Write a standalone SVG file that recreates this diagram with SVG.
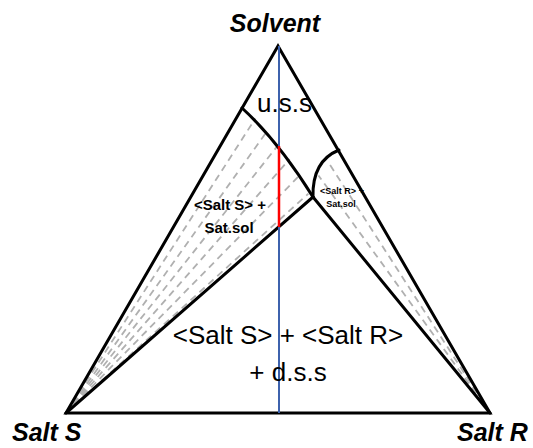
<svg xmlns="http://www.w3.org/2000/svg" width="533" height="448" viewBox="0 0 533 448">
<style>
.edge{fill:none;stroke:#000;stroke-width:3;stroke-linejoin:miter;stroke-linecap:round}
.tie{fill:none;stroke:#b0b0b0;stroke-width:1.8;stroke-dasharray:7 5}
.corner{font-family:"Liberation Sans",Arial,sans-serif;font-weight:bold;font-style:italic;font-size:25px;fill:#000}
.big{font-family:"Liberation Sans",Arial,sans-serif;font-size:26px;fill:#000}
.lab{font-family:"Liberation Sans",Arial,sans-serif;font-weight:bold;fill:#000}
</style>
<rect width="533" height="448" fill="#fff"/>
<g id="tie-lines-S">
<path class="tie" d="M66 413 L255.3 118.6"/>
<path class="tie" d="M66 413 L267.6 130.5"/>
<path class="tie" d="M66 413 L279.0 144.0"/>
<path class="tie" d="M66 413 L289.6 159.0"/>
<path class="tie" d="M66 413 L299.4 175.6"/>
<path class="tie" d="M66 413 L308.4 193.6"/>
</g>
<g id="tie-lines-R">
<path class="tie" d="M490 413 L318.5 175.5"/>
<path class="tie" d="M490 413 L327.5 161.0"/>
</g>
<g id="triangle">
<path class="edge" d="M278 46 L66 413 L490 413 Z"/>
</g>
<g id="boundaries">
<path class="edge" d="M242 108 Q278.5 141.5 313 197"/>
<path class="edge" d="M313 197 Q312 161 339 150"/>
<path class="edge" d="M313 197 L66 413"/>
<path class="edge" d="M313 197 L490 413"/>
</g>
<g id="section-line">
<line x1="279" y1="46" x2="279" y2="413" stroke="#3d62ad" stroke-width="2"/>
<line x1="279" y1="146" x2="279" y2="227" stroke="#ff0000" stroke-width="2.5"/>
</g>
<g id="label-solvent"><text class="corner" x="275" y="32" text-anchor="middle">Solvent</text></g>
<g id="label-salt-s"><text class="corner" x="12" y="441">Salt S</text></g>
<g id="label-salt-r"><text class="corner" x="457" y="441">Salt R</text></g>
<g id="region-uss"><text class="big" x="257" y="112">u.s.s</text></g>
<g id="region-s-sat">
<text class="lab" font-size="15" x="230" y="210" text-anchor="middle">&lt;Salt S&gt; +</text>
<text class="lab" font-size="15" x="229" y="233" text-anchor="middle">Sat.sol</text>
</g>
<g id="region-r-sat">
<text class="lab" font-size="9" x="342" y="194" text-anchor="middle">&lt;Salt R&gt; +</text>
<text class="lab" font-size="9" x="341" y="207" text-anchor="middle">Sat.sol</text>
</g>
<g id="region-dss">
<text class="big" x="288" y="344" text-anchor="middle">&lt;Salt S&gt; + &lt;Salt R&gt;</text>
<text class="big" x="288" y="381" text-anchor="middle">+ d.s.s</text>
</g>
</svg>
